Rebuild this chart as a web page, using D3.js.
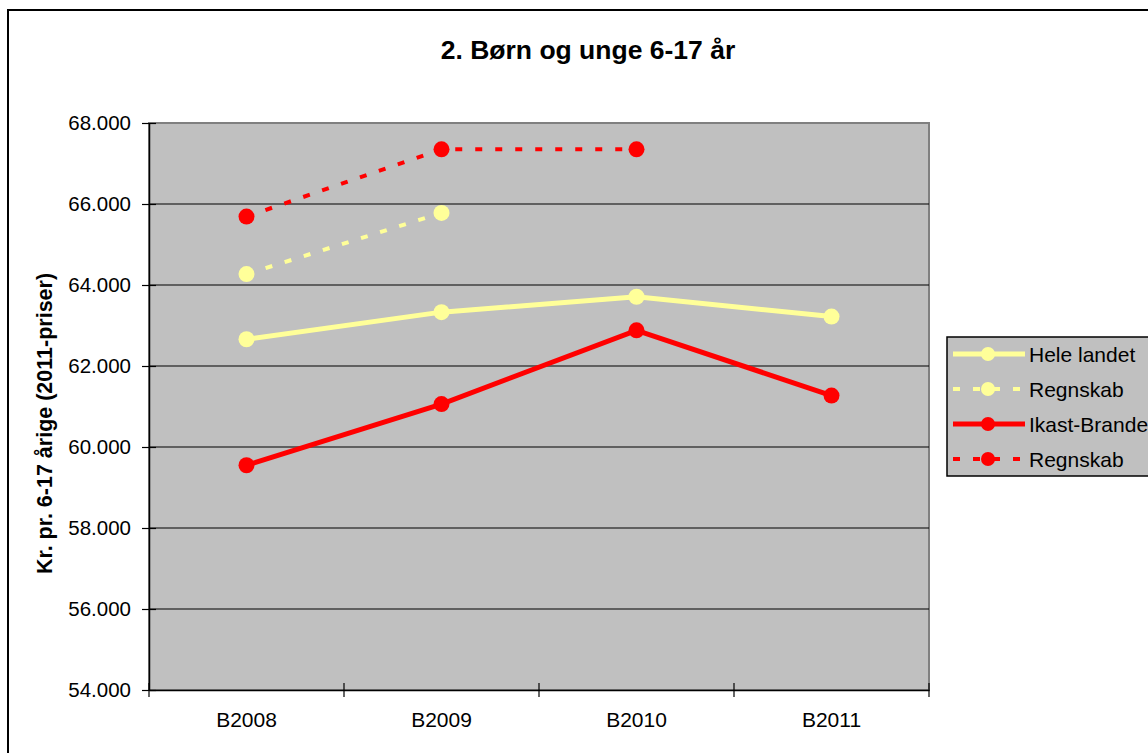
<!DOCTYPE html>
<html>
<head>
<meta charset="utf-8">
<script src="https://cdn.jsdelivr.net/npm/d3@7"></script>
<style>
  body { margin: 0; background: #fff; }
  svg { display: block; font-family: "Liberation Sans", Arial, sans-serif; }
</style>
</head>
<body>
<svg id="chart" width="1148" height="753"></svg>
<script>
const categories = ["B2008", "B2009", "B2010", "B2011"];
const heleLandet = [62660, 63330, 63710, 63220];
const heleRegnskab = [64270, 65780, null, null];
const ikastBrande = [59550, 61060, 62880, 61270];
const ikastRegnskab = [65690, 67350, 67350, null];
const yTicks = [54000, 56000, 58000, 60000, 62000, 64000, 66000, 68000];
const seriesNames = ["Hele landet", "Regnskab", "Ikast-Brande", "Regnskab"];

const title = "2. Børn og unge 6-17 år";
const yLabel = "Kr. pr. 6-17 årige (2011-priser)";

const series = [
  { name: seriesNames[0], values: heleLandet, color: "#ffff99", dashed: false },
  { name: seriesNames[1], values: heleRegnskab, color: "#ffff99", dashed: true },
  { name: seriesNames[2], values: ikastBrande, color: "#ff0000", dashed: false },
  { name: seriesNames[3], values: ikastRegnskab, color: "#ff0000", dashed: true }
];

const svg = d3.select("#chart");
const plot = { left: 149, right: 929, top: 123, bottom: 690 };

// outer frame
svg.append("rect").attr("x", 8).attr("y", 10).attr("width", 1160).attr("height", 770)
  .attr("fill", "#fff").attr("stroke", "#000").attr("stroke-width", 2);

const x = d3.scaleBand().domain(categories).range([plot.left, plot.right]).padding(0);
const y = d3.scaleLinear().domain([54000, 68000]).range([plot.bottom, plot.top]);

// plot background
svg.append("rect").attr("x", plot.left).attr("y", plot.top)
  .attr("width", plot.right - plot.left).attr("height", plot.bottom - plot.top)
  .attr("fill", "#c0c0c0").attr("stroke", "#808080").attr("stroke-width", 2);

// gridlines
svg.append("g").selectAll("line").data(yTicks.filter(t => t > 54000 && t < 68000)).join("line")
  .attr("x1", plot.left).attr("x2", plot.right)
  .attr("y1", d => y(d)).attr("y2", d => y(d))
  .attr("stroke", "#000").attr("stroke-width", 1.2);

// y axis
const yAxis = d3.axisLeft(y).tickValues(yTicks)
  .tickFormat(d => (d / 1000).toFixed(3))
  .tickSizeInner(7).tickSizeOuter(0).tickPadding(11);
const gy = svg.append("g").attr("transform", `translate(${plot.left},0)`).call(yAxis);
gy.select(".domain").attr("stroke", "#000").attr("stroke-width", 1.5);
gy.selectAll(".tick line").attr("x1", -7).attr("x2", 7).attr("stroke", "#000").attr("stroke-width", 1.2);
gy.selectAll(".tick text").attr("font-size", 20.5).attr("fill", "#000")
  .attr("font-family", "'Liberation Sans', Arial, sans-serif");

// x axis
const xAxis = d3.axisBottom(x).tickSize(0).tickPadding(22);
const gx = svg.append("g").attr("transform", `translate(0,${plot.bottom})`).call(xAxis);
gx.select(".domain").attr("stroke", "#000").attr("stroke-width", 1.5);
gx.selectAll(".tick text").attr("font-size", 21).attr("fill", "#000")
  .attr("font-family", "'Liberation Sans', Arial, sans-serif");
const boundaries = categories.map(c => x(c)).concat([x(categories[categories.length - 1]) + x.bandwidth()]);
svg.append("g").selectAll("line").data(boundaries).join("line")
  .attr("x1", d => d).attr("x2", d => d)
  .attr("y1", plot.bottom - 7).attr("y2", plot.bottom + 7)
  .attr("stroke", "#000").attr("stroke-width", 1.2);

// title
svg.append("text").attr("x", 588).attr("y", 59).attr("text-anchor", "middle")
  .attr("font-size", 26.5).attr("font-weight", "bold").text(title);

// y label
svg.append("text").attr("transform", `translate(52,${(plot.top + plot.bottom) / 2 + 17}) rotate(-90)`)
  .attr("text-anchor", "middle").attr("font-size", 21.5).attr("font-weight", "bold").text(yLabel);

// lines
const cx = c => x(c) + x.bandwidth() / 2;
series.forEach(s => {
  const pts = categories.map((c, i) => ({ c, v: s.values[i] })).filter(p => p.v != null);
  const line = d3.line().x(p => cx(p.c)).y(p => y(p.v));
  svg.append("path").datum(pts).attr("d", line)
    .attr("fill", "none").attr("stroke", s.color)
    .attr("stroke-width", s.dashed ? 4 : 5)
    .attr("stroke-dasharray", s.dashed ? "7,13" : null);
  svg.append("g").selectAll("circle").data(pts).join("circle")
    .attr("cx", p => cx(p.c)).attr("cy", p => y(p.v)).attr("r", 8)
    .attr("fill", s.color);
});

// legend
const lg = svg.append("g");
lg.append("rect").attr("x", 947).attr("y", 337).attr("width", 240).attr("height", 139)
  .attr("fill", "#c0c0c0").attr("stroke", "#000").attr("stroke-width", 1.5);
series.forEach((s, i) => {
  const ly = 354 + i * 35;
  lg.append("line").attr("x1", 953).attr("x2", 1025).attr("y1", ly).attr("y2", ly)
    .attr("stroke", s.color).attr("stroke-width", s.dashed ? 4 : 5)
    .attr("stroke-dasharray", s.dashed ? "7,13" : null);
  lg.append("circle").attr("cx", 988).attr("cy", ly).attr("r", 7).attr("fill", s.color);
  lg.append("text").attr("x", 1029).attr("y", ly + 7.5).attr("font-size", 21).attr("fill", "#000").text(s.name);
});
</script>
</body>
</html>
